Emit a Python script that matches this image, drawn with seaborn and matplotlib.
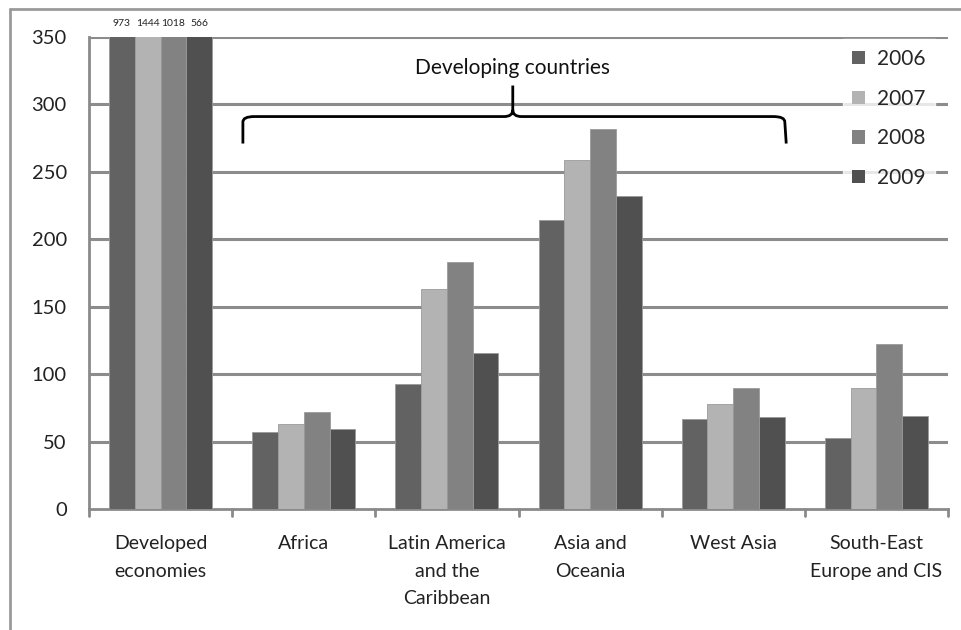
import matplotlib
matplotlib.use("Agg")
import matplotlib.pyplot as plt
from matplotlib.path import Path
from matplotlib.patches import PathPatch, Patch
from matplotlib.lines import Line2D
import seaborn as sns
import pandas as pd

# FDI inflows by region (billions of dollars)
regions = ["Developed\neconomies", "Africa", "Latin America\nand the\nCaribbean",
           "Asia and\nOceania", "West Asia", "South-East\nEurope and CIS"]
years = ["2006", "2007", "2008", "2009"]
v2006 = [973, 57, 93, 214, 67, 53]
v2007 = [1444, 63, 163, 259, 78, 90]
v2008 = [1018, 72, 183, 282, 90, 122]
v2009 = [566, 59, 116, 232, 68, 69]
colors = ["#626262", "#b3b3b3", "#828282", "#505050"]
y_ticks = [0, 50, 100, 150, 200, 250, 300, 350]

series = [v2006, v2007, v2008, v2009]
df = pd.DataFrame([
    {"region": r, "year": y, "value": s[i]}
    for y, s in zip(years, series)
    for i, r in enumerate(regions)
])

sns.set_theme(style="white")
plt.rcParams["font.family"] = ["Lato", "DejaVu Sans"]

fig = plt.figure(figsize=(9.61, 6.30), dpi=100)
ax = fig.add_axes([0.0926, 0.192, 0.8939, 0.7493])

sns.barplot(data=df, x="region", y="value", hue="year", order=regions,
            hue_order=years, palette=colors, width=0.72, gap=0,
            edgecolor="#9a9a9a", linewidth=0.6, saturation=1,
            legend=False, ax=ax, zorder=3)

ax.set_ylim(0, 350)
ax.set_xlim(-0.5, len(regions) - 0.5)
ax.set_yticks(y_ticks)
ax.set_yticklabels([str(t) for t in y_ticks], fontsize=14.5, color="#222222")
ax.set_xticks(range(len(regions)))
ax.set_xticklabels(regions, fontsize=14, color="#222222", linespacing=1.75)
ax.tick_params(axis="x", length=0, pad=19)
ax.tick_params(axis="y", length=7, width=2, color="#8a8a8a", direction="out", pad=9)
ax.set_xlabel("")
ax.set_ylabel("")

for y in y_ticks[1:]:
    ax.axhline(y, color="#8c8c8c", lw=2.2, zorder=1)

# category boundary ticks on the x axis
for b in [i - 0.5 for i in range(len(regions) + 1)]:
    ax.plot([b, b], [0, -5], color="#8a8a8a", lw=2, clip_on=False, zorder=4)

for side in ["top", "right"]:
    ax.spines[side].set_visible(False)
for side in ["left", "bottom"]:
    ax.spines[side].set_color("#8a8a8a")
    ax.spines[side].set_linewidth(2)

# values of the clipped developed-economies bars
for bar, s in zip(ax.containers, series):
    rect = bar.patches[0]
    ax.text(rect.get_x() + rect.get_width() / 2, 357, str(s[0]), ha="center",
            va="bottom", fontsize=7.5, color="#222222", clip_on=False)

# brace over the developing regions
x0, x1, xm = 0.575, 4.36, 2.46
yb, yt, yp = 271, 291, 314
verts = [(x0, yb), (x0, yt - 4), (x0, yt), (x0 + 0.08, yt),
         (xm - 0.06, yt), (xm, yt), (xm, yt + 5), (xm, yp),
         (xm, yt + 5), (xm, yt), (xm + 0.06, yt),
         (x1 - 0.08, yt), (x1, yt), (x1, yt - 4), (x1 + 0.01, yb)]
codes = [Path.MOVETO, Path.LINETO, Path.CURVE3, Path.CURVE3,
         Path.LINETO, Path.CURVE3, Path.CURVE3, Path.LINETO,
         Path.MOVETO, Path.CURVE3, Path.CURVE3,
         Path.LINETO, Path.CURVE3, Path.CURVE3, Path.LINETO]
ax.add_patch(PathPatch(Path(verts, codes), fill=False, lw=2, color="black",
                       zorder=5, clip_on=False))
ax.text(xm, 327, "Developing countries", ha="center", va="center",
        fontsize=15, color="#111111", zorder=5)

handles = [Patch(facecolor=c, edgecolor="none") for c in colors]
leg = ax.legend(handles, years, loc="upper right", bbox_to_anchor=(0.985, 0.995),
                frameon=True, fontsize=15, handlelength=0.6, handleheight=0.6,
                handletextpad=0.6, labelspacing=0.95, borderpad=0.45,
                borderaxespad=0, fancybox=False)
leg.get_frame().set_facecolor("white")
leg.get_frame().set_edgecolor("white")
leg.set_zorder(6)

# outer chart frame
fig.add_artist(Line2D([0.0105, 0.0105], [0, 0.986], color="#9a9a9a", lw=2,
                      transform=fig.transFigure))
fig.add_artist(Line2D([0.0105, 1.0], [0.986, 0.986], color="#9a9a9a", lw=2,
                      transform=fig.transFigure))

fig.savefig("out.png", dpi=100)
